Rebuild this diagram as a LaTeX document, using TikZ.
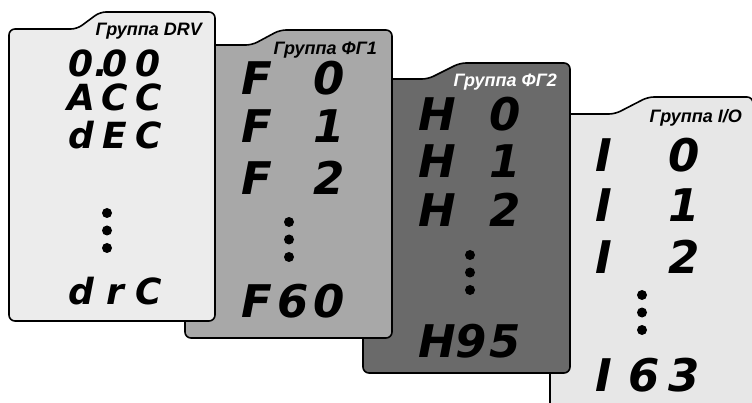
\documentclass[tikz,border=0pt]{standalone}
\usepackage{fontspec}
\setmainfont{Liberation Sans}
\newfontfamily\lcdfont{DejaVu Sans}
\usepackage{tikz}

\definecolor{drvgray}{RGB}{236,236,236}
\definecolor{fgonegray}{RGB}{168,168,168}
\definecolor{fgtwogray}{RGB}{106,106,106}
\definecolor{iogray}{RGB}{231,231,231}

% three display cells of equal width
\newcommand\segrow[4][36pt]{\makebox[#1]{#2}\makebox[#1]{#3}\makebox[#1]{#4}}

\begin{document}
\begin{tikzpicture}
  [x=1pt,y=-1pt,
   card/.style={draw=black,line width=1.6pt,rounded corners=6pt},
   title/.style={anchor=base east,inner sep=0pt,font=\bfseries\itshape\fontsize{18}{20}\selectfont},
   display/.style={anchor=base,inner sep=0pt,font=\lcdfont\bfseries\itshape\fontsize{45}{50}\selectfont},
   drvdisplay/.style={display,font=\lcdfont\bfseries\itshape\fontsize{36}{40}\selectfont},
   dot/.style={circle,fill=black,inner sep=0pt,minimum size=10pt}]
  \useasboundingbox (0,0) rectangle (752,403);
  \clip (0,0) rectangle (752,403);
  \fill[white] (0,0) rectangle (752,403);

  % cards, back to front
  \foreach \l/\r/\t/\tb/\xs/\xe/\b/\col in
    {550/753/114/97/615/648/430/iogray,
     363/570/79/63/428/460/373/fgtwogray,
     185/392/45/30/252/280/338/fgonegray,
     9/215/29/12/77/100/321/drvgray}
    \draw[card,fill=\col] (\l,\b-40) -- (\l,\t) -- (\xs,\t) -- (\xe,\tb)
      -- (\r,\tb) -- (\r,\b) -- (\l,\b) -- cycle;

  % titles
  \node[title] (drvtitle) at (202,36) {Группа DRV};
  \node[title] (fgonetitle) at (377,55) {Группа ФГ1};
  \node[title,text=white] (fgtwotitle) at (557,87) {Группа ФГ2};
  \node[title] (iotitle) at (742,123) {Группа I/O};

  % group DRV
  \node[drvdisplay] (drv0) at (115,77) {\segrow[33.5pt]{0\rlap{.}}{0}{0}};
  \node[drvdisplay] (drv1) at (115,111) {\segrow[33.5pt]{A}{C}{C}};
  \node[drvdisplay] (drv2) at (115,149) {\segrow[33.5pt]{d}{E}{C}};
  \node[drvdisplay] (drvn) at (115,305) {\segrow[33.5pt]{d}{r}{C}};

  % group FG1
  \node[display] (fgone0) at (293,95) {\segrow{F}{}{0}};
  \node[display] (fgone1) at (293,143) {\segrow{F}{}{1}};
  \node[display] (fgone2) at (293,195) {\segrow{F}{}{2}};
  \node[display] (fgonen) at (293,317) {\segrow{F}{6}{0}};

  % group FG2
  \node[display] (fgtwo0) at (471,131) {\segrow[34pt]{H}{}{0}};
  \node[display] (fgtwo1) at (471,178) {\segrow[34pt]{H}{}{1}};
  \node[display] (fgtwo2) at (471,227) {\segrow[34pt]{H}{}{2}};
  \node[display] (fgtwon) at (471,357) {\segrow[34pt]{H}{9}{5}};

  % group I/O
  \node[display] (io0) at (644,172) {\segrow[40pt]{I}{}{0}};
  \node[display] (io1) at (644,222) {\segrow[40pt]{I}{}{1}};
  \node[display] (io2) at (644,273) {\segrow[40pt]{I}{}{2}};
  \node[display] (ion) at (644,391) {\segrow[40pt]{I}{6}{3}};

  % vertical dots
  \foreach \n/\x/\y in {drv/107/213,fgone/289/222,fgtwo/470/255,io/642/295}
    \foreach \k in {0,1,2}
      \node[dot] (\n dot\k) at (\x,\y+17.5*\k) {};
\end{tikzpicture}
\end{document}
